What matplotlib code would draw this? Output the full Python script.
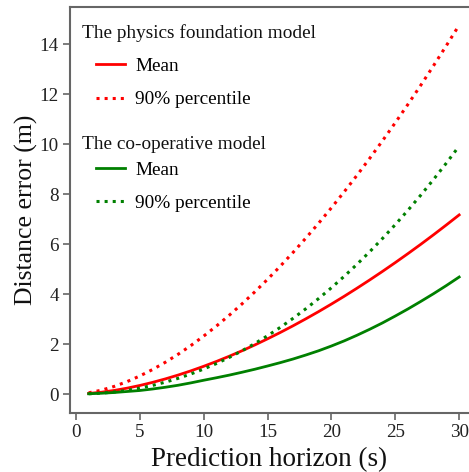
import matplotlib.pyplot as plt
import numpy as np

# Prediction horizon (s)
horizon = list(range(1, 31))

# The physics foundation model
phys_mean = [0.022, 0.072, 0.143, 0.233, 0.341, 0.465, 0.604, 0.758, 0.926, 1.108,
             1.302, 1.510, 1.729, 1.961, 2.207, 2.462, 2.729, 3.008, 3.297, 3.598,
             3.909, 4.232, 4.564, 4.906, 5.258, 5.620, 5.991, 6.373, 6.765, 7.165]
phys_p90 = [0.048, 0.153, 0.304, 0.494, 0.720, 0.979, 1.269, 1.589, 1.938, 2.316,
            2.719, 3.149, 3.604, 4.084, 4.587, 5.115, 5.665, 6.238, 6.833, 7.450,
            8.089, 8.749, 9.430, 10.132, 10.854, 11.595, 12.357, 13.140, 13.940, 14.760]

# The co-operative model
coop_mean = [0.010, 0.030, 0.060, 0.100, 0.140, 0.200, 0.270, 0.350, 0.445, 0.550,
             0.650, 0.755, 0.870, 0.990, 1.120, 1.255, 1.400, 1.560, 1.730, 1.920,
             2.125, 2.350, 2.590, 2.845, 3.120, 3.405, 3.705, 4.015, 4.340, 4.680]
coop_p90 = [0.008, 0.035, 0.081, 0.147, 0.235, 0.343, 0.474, 0.626, 0.801, 0.999,
            1.219, 1.462, 1.727, 2.017, 2.330, 2.666, 3.027, 3.411, 3.819, 4.251,
            4.707, 5.188, 5.693, 6.223, 6.777, 7.356, 7.959, 8.588, 9.241, 9.920]

plt.rcParams['font.family'] = ['Liberation Serif', 'DejaVu Serif']

fig = plt.figure(figsize=(4.69, 4.72), dpi=100)
ax = fig.add_axes([0.149, 0.125, 0.851, 0.860])

l1, = ax.plot(horizon, phys_mean, color='#ff0000', lw=2)
l2, = ax.plot(horizon, phys_p90, color='#ff0000', lw=2.2, linestyle=':')
l3, = ax.plot(horizon, coop_mean, color='#008000', lw=2)
l4, = ax.plot(horizon, coop_p90, color='#008000', lw=2.2, linestyle=':')

ax.set_xlim(-0.47, 30.77)
ax.set_ylim(-0.76, 15.48)
ax.set_xticks([0, 5, 10, 15, 20, 25, 30])
ax.set_yticks([0, 2, 4, 6, 8, 10, 12, 14])

for side in ['left', 'bottom', 'top']:
    ax.spines[side].set_color('#666666')
    ax.spines[side].set_linewidth(1.5)
ax.spines['right'].set_visible(False)
ax.tick_params(axis='both', direction='out', length=5, width=1.2, color='#666666',
               labelsize=13.8, labelcolor='#222222', pad=3)

ax.set_xlabel("Prediction horizon (s)", fontsize=19.5, color='#111111', labelpad=4)
ax.set_ylabel("Distance error (m)", fontsize=18.5, color='#111111', labelpad=1)

# legend: two groups with a header line each
ax.text(0.030, 0.936, "The physics foundation model", transform=ax.transAxes,
        fontsize=13.9, va='center', ha='left', color='#111111')
ax.text(0.030, 0.662, "The co-operative model", transform=ax.transAxes,
        fontsize=13.9, va='center', ha='left', color='#111111')

leg_kw = dict(loc='upper left', frameon=False, fontsize=13.9, borderpad=0,
              borderaxespad=0, handlelength=1.5, handletextpad=0.55, labelspacing=0.82)
leg1 = ax.legend([l1, l2], ['Mean', '90% percentile'], bbox_to_anchor=(0.065, 0.876), **leg_kw)
ax.add_artist(leg1)
ax.legend([l3, l4], ['Mean', '90% percentile'], bbox_to_anchor=(0.065, 0.620), **leg_kw)

fig.savefig("out.png", dpi=100)
